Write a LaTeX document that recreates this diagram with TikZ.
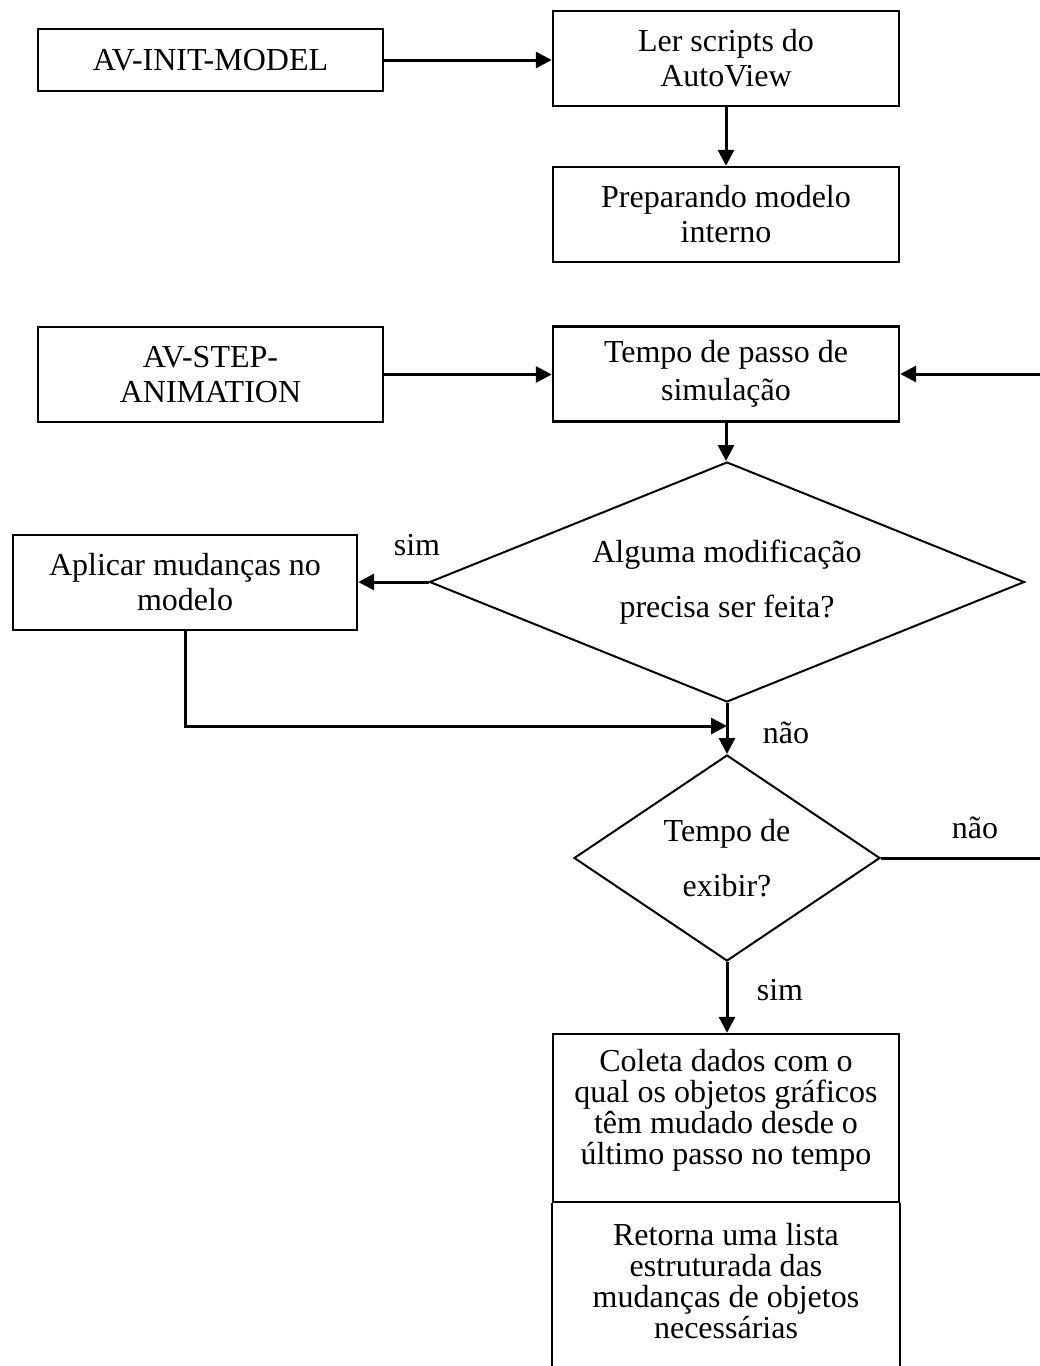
\documentclass[tikz,border=0pt]{standalone}
\usepackage{fontspec}
\setmainfont{Liberation Serif}
\usetikzlibrary{shapes.geometric,arrows.meta}
\begin{document}
\begin{tikzpicture}[x=1pt,y=1pt,
  box/.style={draw, line width=2.4pt, minimum width=346pt, minimum height=95pt,
    align=center, inner sep=0pt, font=\fontsize{32}{35}\selectfont},
  txt/.style={align=center, inner sep=0pt, font=\fontsize{32}{31}\selectfont},
  dec/.style={draw, diamond, line width=2pt, inner sep=0pt},
  dectext/.style={align=center, inner sep=0pt, font=\fontsize{32}{55}\selectfont},
  flow/.style={line width=3pt, -{Triangle[length=16pt,width=16pt]}},
  lbl/.style={font=\fontsize{32}{35}\selectfont, inner sep=0pt, anchor=base}
]
\useasboundingbox (0,0) rectangle (1040,-1366);
\clip (0,0) rectangle (1040,-1366);

% initialisation branch
\node[box, minimum width=345pt, minimum height=62pt] (init) at (210.5,-60) {AV-INIT-MODEL};
\node[box] (ler) at (726,-58.5) {Ler scripts do\\AutoView};
\node[box] (prep) at (726,-214.5) {Preparando modelo\\interno};

% animation step
\node[box, minimum width=345pt] (step) at (210.5,-374.5) {AV-STEP-\\ANIMATION};
\node[box, font=\fontsize{32}{38}\selectfont] (tempo) at (726,-374) {Tempo de passo de\\simulação};

% first decision
\node[dec, minimum width=595pt, minimum height=240pt,
  label={[dectext]center:Alguma modificação\\precisa ser feita?}] (d1) at (727,-582) {};
\node[box, minimum width=344pt] (aplicar) at (185,-582.5) {Aplicar mudanças no\\modelo};
\coordinate (join) at (727,-726);

% second decision
\node[dec, minimum width=306pt, minimum height=206pt,
  label={[dectext]center:Tempo de\\exibir?}] (d2) at (727,-858) {};
\coordinate (loop) at (1060,-374);

% data collection and result
\node[box, minimum height=168pt,
  label={[txt, yshift=8pt]center:Coleta dados com o\\qual os objetos gráficos\\têm mudado desde o\\último passo no tempo}]
  (coleta) at (726,-1118) {};
\node[txt] (retorna) at (726,-1281)
  {Retorna uma lista\\estruturada das\\mudanças de objetos\\necessárias};
\draw[line width=2.4pt] (coleta.south west) -- ++(0,-200)
                        (coleta.south east) -- ++(0,-200);

% connectors
\draw[flow] (init.east) -- (init.east -| ler.west);
\draw[flow] (ler.south) -- (prep.north);
\draw[flow] (step.east) -- (step.east -| tempo.west);
\draw[flow] (tempo.south) -- (tempo.south |- d1.north);
\draw[flow] (d1.west) -- (d1.west -| aplicar.east);
\draw[flow] (aplicar.south) |- (join);
\draw[flow] (d1.south) -- (d2.north);
\draw[flow] (d2.east) -| (loop) -- (tempo.east);
\draw[flow] (d2.south) -- (d2.south |- coleta.north);

% branch labels
\node[lbl] (sim1) at (417,-555) {sim};
\node[lbl] (nao1) at (786,-743) {não};
\node[lbl] (nao2) at (975,-838) {não};
\node[lbl] (sim2) at (780,-1000) {sim};
\end{tikzpicture}
\end{document}
